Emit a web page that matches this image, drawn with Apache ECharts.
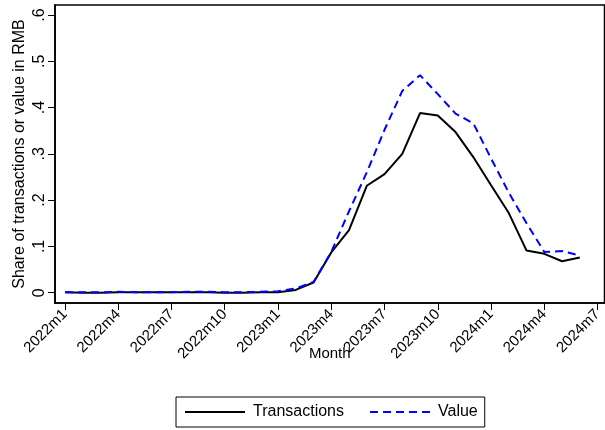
<!DOCTYPE html>
<html>
<head>
<meta charset="utf-8">
<script src="https://cdn.jsdelivr.net/npm/echarts@6/dist/echarts.min.js"></script>
<style>
html,body{margin:0;padding:0;background:#fff;}
#chart{width:605px;height:430px;}
</style>
</head>
<body>
<div id="chart"></div>
<script>
// Months 2022m1 .. 2024m6 (index 0..29)
const monthIndex = [0,1,2,3,4,5,6,7,8,9,10,11,12,13,14,15,16,17,18,19,20,21,22,23,24,25,26,27,28,29];
const transactions = [0.001,0.000,0.000,0.001,0.001,0.001,0.001,0.001,0.001,0.000,0.000,0.001,
  0.001,0.006,0.022,0.087,0.135,0.231,0.256,0.300,0.388,0.383,0.347,0.293,0.232,0.172,0.091,0.084,0.068,0.076];
const valueShare = [0.001,0.001,0.001,0.002,0.001,0.001,0.001,0.002,0.002,0.001,0.001,0.002,
  0.003,0.009,0.023,0.088,0.176,0.260,0.352,0.436,0.470,0.429,0.387,0.366,0.290,0.216,0.150,0.088,0.090,0.080];
const xTickPositions = [0,3,6,9,12,15,18,21,24,27,30];
const xTickLabels = ['2022m1','2022m4','2022m7','2022m10','2023m1','2023m4','2023m7','2023m10','2024m1','2024m4','2024m7'];
const yTickValues = [0,0.1,0.2,0.3,0.4,0.5,0.6];
const yTickLabels = ['0','.1','.2','.3','.4','.5','.6'];

const FONT = '"Liberation Sans", Arial, sans-serif';
const chart = echarts.init(document.getElementById('chart'), null, {renderer:'canvas'});
const pairs = arr => monthIndex.map((m,i)=>[m, arr[i]]);

chart.setOption({
  animation:false,
  backgroundColor:'#fff',
  textStyle:{fontFamily:FONT},
  grid:{left:55, top:5, width:552, height:298, show:true, borderColor:'#000', borderWidth:1.6, backgroundColor:'transparent'},
  legend:{
    left:176, top:397, padding:[7,7,7,8], itemGap:25, itemWidth:60, itemHeight:14,
    borderColor:'#000', borderWidth:1,
    itemStyle:{opacity:0},
    textStyle:{fontFamily:FONT, fontSize:16, color:'#000', padding:[0,0,0,3]},
    data:['Transactions','Value']
  },
  xAxis:{
    type:'value', min:-0.561, max:30.393,
    name:'Month', nameLocation:'middle', nameGap:43, nameMoveOverlap:false,
    nameTextStyle:{fontFamily:FONT, fontSize:15, color:'#000'},
    axisLine:{show:true, onZero:false, lineStyle:{color:'#000', width:1.6}},
    axisTick:{show:true, length:7, customValues:xTickPositions, lineStyle:{color:'#000', width:1}},
    axisLabel:{rotate:45, margin:9, fontFamily:FONT, fontSize:15, color:'#000',
      customValues:xTickPositions,
      formatter:v=>{const k=xTickPositions.indexOf(Math.round(v)); return k>=0?xTickLabels[k]:'';}},
    splitLine:{show:false}
  },
  yAxis:{
    type:'value', min:-0.0223, max:0.6216,
    name:'Share of transactions or value in RMB', nameLocation:'middle', nameGap:27, nameRotate:90, nameMoveOverlap:false,
    nameTextStyle:{fontFamily:FONT, fontSize:16, color:'#000'},
    axisLine:{show:true, onZero:false, lineStyle:{color:'#000', width:1.6}},
    axisTick:{show:true, length:7, customValues:yTickValues, lineStyle:{color:'#000', width:1}},
    axisLabel:{rotate:90, margin:7, fontFamily:FONT, fontSize:16, color:'#000',
      customValues:yTickValues,
      formatter:v=>{let k=-1; yTickValues.forEach((t,i)=>{if(Math.abs(t-v)<1e-6)k=i;}); return k>=0?yTickLabels[k]:'';}},
    splitLine:{show:false}
  },
  series:[
    {name:'Transactions', type:'line', symbol:'none', data:pairs(transactions),
     lineStyle:{color:'#000', width:2}, itemStyle:{color:'#000'}},
    {name:'Value', type:'line', symbol:'none', data:pairs(valueShare),
     lineStyle:{color:'#0000ff', width:2, type:[8,5]}, itemStyle:{color:'#0000ff'}}
  ]
});
</script>
</body>
</html>
